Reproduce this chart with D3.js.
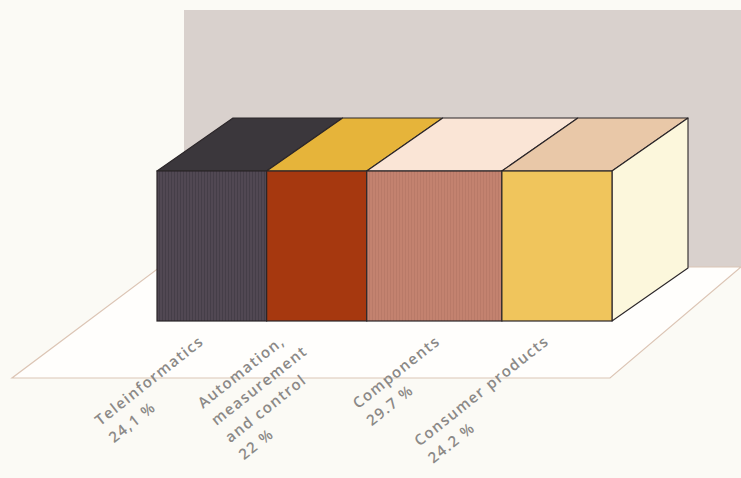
<!DOCTYPE html>
<html><head><meta charset="utf-8">
<script src="https://cdn.jsdelivr.net/npm/d3@7"></script>
<style>html,body{margin:0;padding:0;background:#fbfaf5;} svg{display:block}</style>
</head><body><svg id="c" width="741" height="478"></svg>
<script>
// ---- data ----
const categories = ["Teleinformatics", "Automation, measurement and control", "Components", "Consumer products"];
const labelLines = [["Teleinformatics"], ["Automation,", "measurement", "and control"], ["Components"], ["Consumer products"]];
const shares = [24.1, 22, 29.7, 24.2];
const shareLabels = ["24,1 %", "22 %", "29.7 %", "24.2 %"];

// ---- styles / layout ----
const frontColors = ["#514853", "#a6380f", "#c3826f", "#f0c55c"];
const topColors = ["#3b373c", "#e6b43a", "#fae5d6", "#e9c8a8"];
const sideColor = "#fcf7dc";
const W = 741, H = 478;
const svg = d3.select("#c");
const x = d3.scaleLinear().domain([0, 100]).range([157, 612]);
const y = d3.scaleLinear().domain([0, 1]).range([321, 171]);
const D = {dx: 76, dy: -53};
const labelNudge = [-7, -31, 7, -7];
const angle = -38.5, rad = angle * Math.PI / 180;

svg.append("rect").attr("width", W).attr("height", H).attr("fill", "#fbfaf5");

// texture pattern
const defs = svg.append("defs");
function stripes(id, base, line, op) {
  const p = defs.append("pattern").attr("id", id).attr("patternUnits", "userSpaceOnUse")
    .attr("width", 3).attr("height", 6);
  p.append("rect").attr("width", 3).attr("height", 6).attr("fill", base);
  p.append("rect").attr("x", 0).attr("width", 1).attr("height", 6).attr("fill", line).attr("opacity", op);
  return `url(#${id})`;
}
const fills = [
  stripes("p0", frontColors[0], "#2e2a33", 0.35),
  frontColors[1],
  stripes("p2", frontColors[2], "#a56a5c", 0.35),
  frontColors[3]
];

// back wall
svg.append("rect").attr("x", 184).attr("y", 10).attr("width", W - 184).attr("height", 257).attr("fill", "#d9d1cd");

// floor
const floorPts = [[12, 378], [610, 378], [741, 267], [160, 267]];
svg.append("path").attr("d", "M" + floorPts.map(p => p.join(",")).join("L") + "Z")
  .attr("fill", "#fffefc").attr("stroke", "#dcc5b5").attr("stroke-width", 1.2);

// stacked segments
const starts = [0, ...d3.cumsum(shares)].slice(0, shares.length);
const segs = shares.map((v, i) => ({i, x0: x(starts[i]), x1: x(starts[i] + v)}));
const y0 = y(0), y1 = y(1);
const stroke = "#2b2629";
const line = pts => "M" + pts.map(p => p.join(",")).join("L") + "Z";

// top faces
svg.selectAll("path.top").data(segs).join("path").attr("class", "top")
  .attr("d", d => line([[d.x0, y1], [d.x1, y1], [d.x1 + D.dx, y1 + D.dy], [d.x0 + D.dx, y1 + D.dy]]))
  .attr("fill", d => topColors[d.i]).attr("stroke", stroke).attr("stroke-width", 1.1).attr("stroke-linejoin", "round");

// side face
const last = segs[segs.length - 1];
svg.append("path")
  .attr("d", line([[last.x1, y1], [last.x1 + D.dx, y1 + D.dy], [last.x1 + D.dx, y0 + D.dy], [last.x1, y0]]))
  .attr("fill", sideColor).attr("stroke", stroke).attr("stroke-width", 1.1).attr("stroke-linejoin", "round");

// front faces
svg.selectAll("rect.front").data(segs).join("rect").attr("class", "front")
  .attr("x", d => d.x0).attr("y", y1).attr("width", d => d.x1 - d.x0).attr("height", y0 - y1)
  .attr("fill", d => fills[d.i]).attr("stroke", stroke).attr("stroke-width", 1.2);

// labels
const lh = 22;
segs.forEach((d, i) => {
  const lines = labelLines[i].concat([shareLabels[i]]);
  const g = svg.append("g");
  const texts = lines.map((t, k) => g.append("text").attr("x", 0).attr("y", k * lh).text(t)
    .attr("font-family", "'Open Sans', sans-serif").attr("font-weight", 600)
    .attr("font-size", 15).attr("letter-spacing", 1.4).attr("fill", "#8b8987"));
  const L1 = texts[0].node().getComputedTextLength();
  const cx = (d.x0 + d.x1) / 2 + labelNudge[i];
  const ey = 343;
  const ox = cx - L1 * Math.cos(rad);
  const oy = ey - L1 * Math.sin(rad);
  g.attr("transform", `translate(${ox},${oy}) rotate(${angle})`);
});
</script></body></html>
